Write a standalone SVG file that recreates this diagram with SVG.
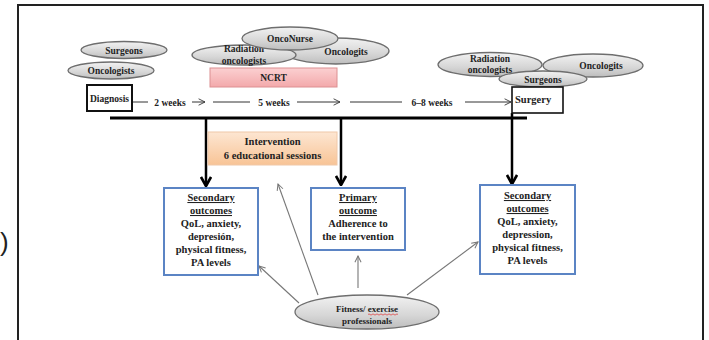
<svg xmlns="http://www.w3.org/2000/svg" width="709" height="340" viewBox="0 0 709 340">
<style>
  text { font-family: "Liberation Serif", "Times New Roman", serif; font-weight: bold; fill: #222; }
  .el { fill: url(#gEl); stroke: #6e6e6e; stroke-width: 1.3; }
  .et { font-size: 9.5px; text-anchor: middle; }
  .bt { font-size: 10.5px; text-anchor: middle; }
  .u { text-decoration: underline; }
  .tl { stroke: #333; stroke-width: 1; fill: none; }
  .big { stroke: #000; stroke-width: 2.5; fill: none; marker-end: url(#mBig); }
  .thin { stroke: #777; stroke-width: 1.1; fill: none; marker-end: url(#mThin); }
  .ob { fill: #fff; stroke: #5b84c4; stroke-width: 2; }
</style>
<defs>
  <linearGradient id="gEl" x1="0" y1="0" x2="0" y2="1">
    <stop offset="0" stop-color="#f2f2f2"/>
    <stop offset="0.6" stop-color="#d6d6d6"/>
    <stop offset="1" stop-color="#bdbdbd"/>
  </linearGradient>
  <linearGradient id="gPink" x1="0" y1="0" x2="0" y2="1">
    <stop offset="0" stop-color="#fbd0d1"/>
    <stop offset="1" stop-color="#f3a9ab"/>
  </linearGradient>
  <linearGradient id="gPeach" x1="0" y1="0" x2="0" y2="1">
    <stop offset="0" stop-color="#fde6d2"/>
    <stop offset="1" stop-color="#f8c496"/>
  </linearGradient>
  <marker id="mBig" viewBox="0 0 10 10" refX="9" refY="5" markerWidth="4.5" markerHeight="4.5" orient="auto" markerUnits="strokeWidth">
    <path d="M1,0.5 L9,5 L1,9.5" fill="none" stroke="#000" stroke-width="2.4"/>
  </marker>
  <marker id="mThin" viewBox="0 0 10 10" refX="9" refY="5" markerWidth="7" markerHeight="7" orient="auto" markerUnits="strokeWidth">
    <path d="M1,1 L9,5 L1,9" fill="none" stroke="#777" stroke-width="1.3"/>
  </marker>
  <marker id="mTl" viewBox="0 0 10 10" refX="9" refY="5" markerWidth="8" markerHeight="8" orient="auto" markerUnits="strokeWidth">
    <path d="M1,1 L9,5 L1,9" fill="none" stroke="#333" stroke-width="1.1"/>
  </marker>
</defs>

<rect x="0" y="0" width="709" height="340" fill="#fff"/>
<rect x="18" y="5" width="685" height="345" fill="none" stroke="#222" stroke-width="2"/>
<text x="0" y="251" style="font-family: 'Liberation Sans', Arial, sans-serif; font-size: 26px; font-weight: normal;">)</text>

<g id="connectors">
  <line x1="110" y1="118" x2="527" y2="118" stroke="#000" stroke-width="3"/>
  <path class="big" d="M206,118 V186"/>
  <path class="big" d="M341,118 V185"/>
  <path class="big" d="M512,113 V184"/>
  <path class="tl" d="M132,102 H148"/>
  <path class="tl" d="M192,102 H205" marker-end="url(#mTl)"/>
  <path class="tl" d="M213,102 H250"/>
  <path class="tl" d="M297,102 H340" marker-end="url(#mTl)"/>
  <path class="tl" d="M350,102 H402"/>
  <path class="tl" d="M465,102 H511" marker-end="url(#mTl)"/>
  <path class="thin" d="M299,303 L259,266"/>
  <path class="thin" d="M318,295 L278,184"/>
  <path class="thin" d="M358,288 L358,256"/>
  <path class="thin" d="M407,295 L478,242"/>
</g>

<g id="time-labels">
  <text x="170" y="105.5" style="font-size:9.5px" text-anchor="middle">2 weeks</text>
  <text x="274" y="105.5" style="font-size:9.5px" text-anchor="middle">5 weeks</text>
  <text x="432" y="105.5" style="font-size:9.5px" text-anchor="middle">6–8 weeks</text>
</g>

<g id="surgeons-left">
  <ellipse class="el" cx="124" cy="50" rx="43" ry="8.5"/>
  <text class="et" x="124" y="53.5">Surgeons</text>
</g>
<g id="oncologists-left">
  <ellipse class="el" cx="111" cy="70.5" rx="43" ry="8.5"/>
  <text class="et" x="111" y="74">Oncologists</text>
</g>
<g id="diagnosis">
  <rect x="87" y="85" width="45" height="26" fill="#fff" stroke="#111" stroke-width="2"/>
  <text x="109.5" y="101.5" style="font-size:9.5px" text-anchor="middle">Diagnosis</text>
</g>

<g id="oncologits-mid">
  <ellipse class="el" cx="336" cy="51" rx="53" ry="13"/>
  <text class="et" x="346" y="55">Oncologits</text>
</g>
<g id="radiation-mid">
  <ellipse class="el" cx="244" cy="55" rx="52" ry="10"/>
  <text class="et" x="244" y="51.5">Radiation</text>
  <text class="et" x="244" y="63.5">oncologists</text>
</g>
<g id="onconurse">
  <ellipse class="el" cx="290" cy="38.5" rx="48" ry="11.5"/>
  <text class="et" x="290" y="41.5">OncoNurse</text>
</g>
<g id="ncrt">
  <rect x="210" y="68" width="127" height="19" fill="url(#gPink)" stroke="#dc9092" stroke-width="1"/>
  <text x="273.5" y="81" style="font-size:9.5px" text-anchor="middle">NCRT</text>
</g>

<g id="radiation-right">
  <ellipse class="el" cx="490" cy="64.5" rx="52" ry="12"/>
  <text class="et" x="490" y="61.5">Radiation</text>
  <text class="et" x="490" y="72.5">oncologists</text>
</g>
<g id="oncologits-right">
  <ellipse class="el" cx="593" cy="65.5" rx="50" ry="11.5"/>
  <text class="et" x="601" y="68.5">Oncologits</text>
</g>
<g id="surgeons-right">
  <ellipse class="el" cx="543" cy="79" rx="44" ry="8"/>
  <text class="et" x="543" y="82.5">Surgeons</text>
</g>
<g id="surgery">
  <rect x="512" y="87" width="51" height="26" fill="#fff" stroke="#111" stroke-width="1.6"/>
  <text x="515" y="103" style="font-size:10.5px">Surgery</text>
</g>

<g id="intervention">
  <rect x="208" y="132" width="129" height="33" fill="url(#gPeach)" stroke="#f0c8a8" stroke-width="1"/>
  <text class="bt" x="272.5" y="145">Intervention</text>
  <text class="bt" x="272.5" y="158.5">6 educational  sessions</text>
</g>

<g id="secondary-left">
  <rect class="ob" x="164" y="188" width="94" height="87"/>
  <text class="bt u" x="211" y="201">Secondary</text>
  <text class="bt u" x="211" y="214">outcomes</text>
  <text class="bt" x="211" y="227">QoL, anxiety,</text>
  <text class="bt" x="211" y="240">depresión,</text>
  <text class="bt" x="211" y="253">physical fitness,</text>
  <text class="bt" x="211" y="266">PA levels</text>
</g>
<g id="primary">
  <rect class="ob" x="311" y="188" width="94" height="62"/>
  <text class="bt u" x="358" y="201">Primary</text>
  <text class="bt u" x="358" y="214">outcome</text>
  <text class="bt" x="358" y="227">Adherence to</text>
  <text class="bt" x="358" y="240">the intervention</text>
</g>
<g id="secondary-right">
  <rect class="ob" x="480" y="185" width="95" height="89"/>
  <text class="bt u" x="527.5" y="199">Secondary</text>
  <text class="bt u" x="527.5" y="212">outcomes</text>
  <text class="bt" x="527.5" y="225">QoL, anxiety,</text>
  <text class="bt" x="527.5" y="238">depression,</text>
  <text class="bt" x="527.5" y="251">physical fitness,</text>
  <text class="bt" x="527.5" y="264">PA levels</text>
</g>

<g id="fitness">
  <ellipse class="el" cx="367" cy="312" rx="72" ry="17"/>
  <text x="367" y="312" style="font-size:9px" text-anchor="middle">Fitness/ exercise</text>
  <text x="367" y="323.5" style="font-size:9px" text-anchor="middle">professionals</text>
  <path d="M368,314.5 q1,-1.2 2,0 t2,0 t2,0 t2,0 t2,0 t2,0 t2,0 t2,0 t2,0 t2,0 t2,0 t2,0 t2,0 t2,0 t2,0" fill="none" stroke="#e03030" stroke-width="0.7"/>
</g>
</svg>
